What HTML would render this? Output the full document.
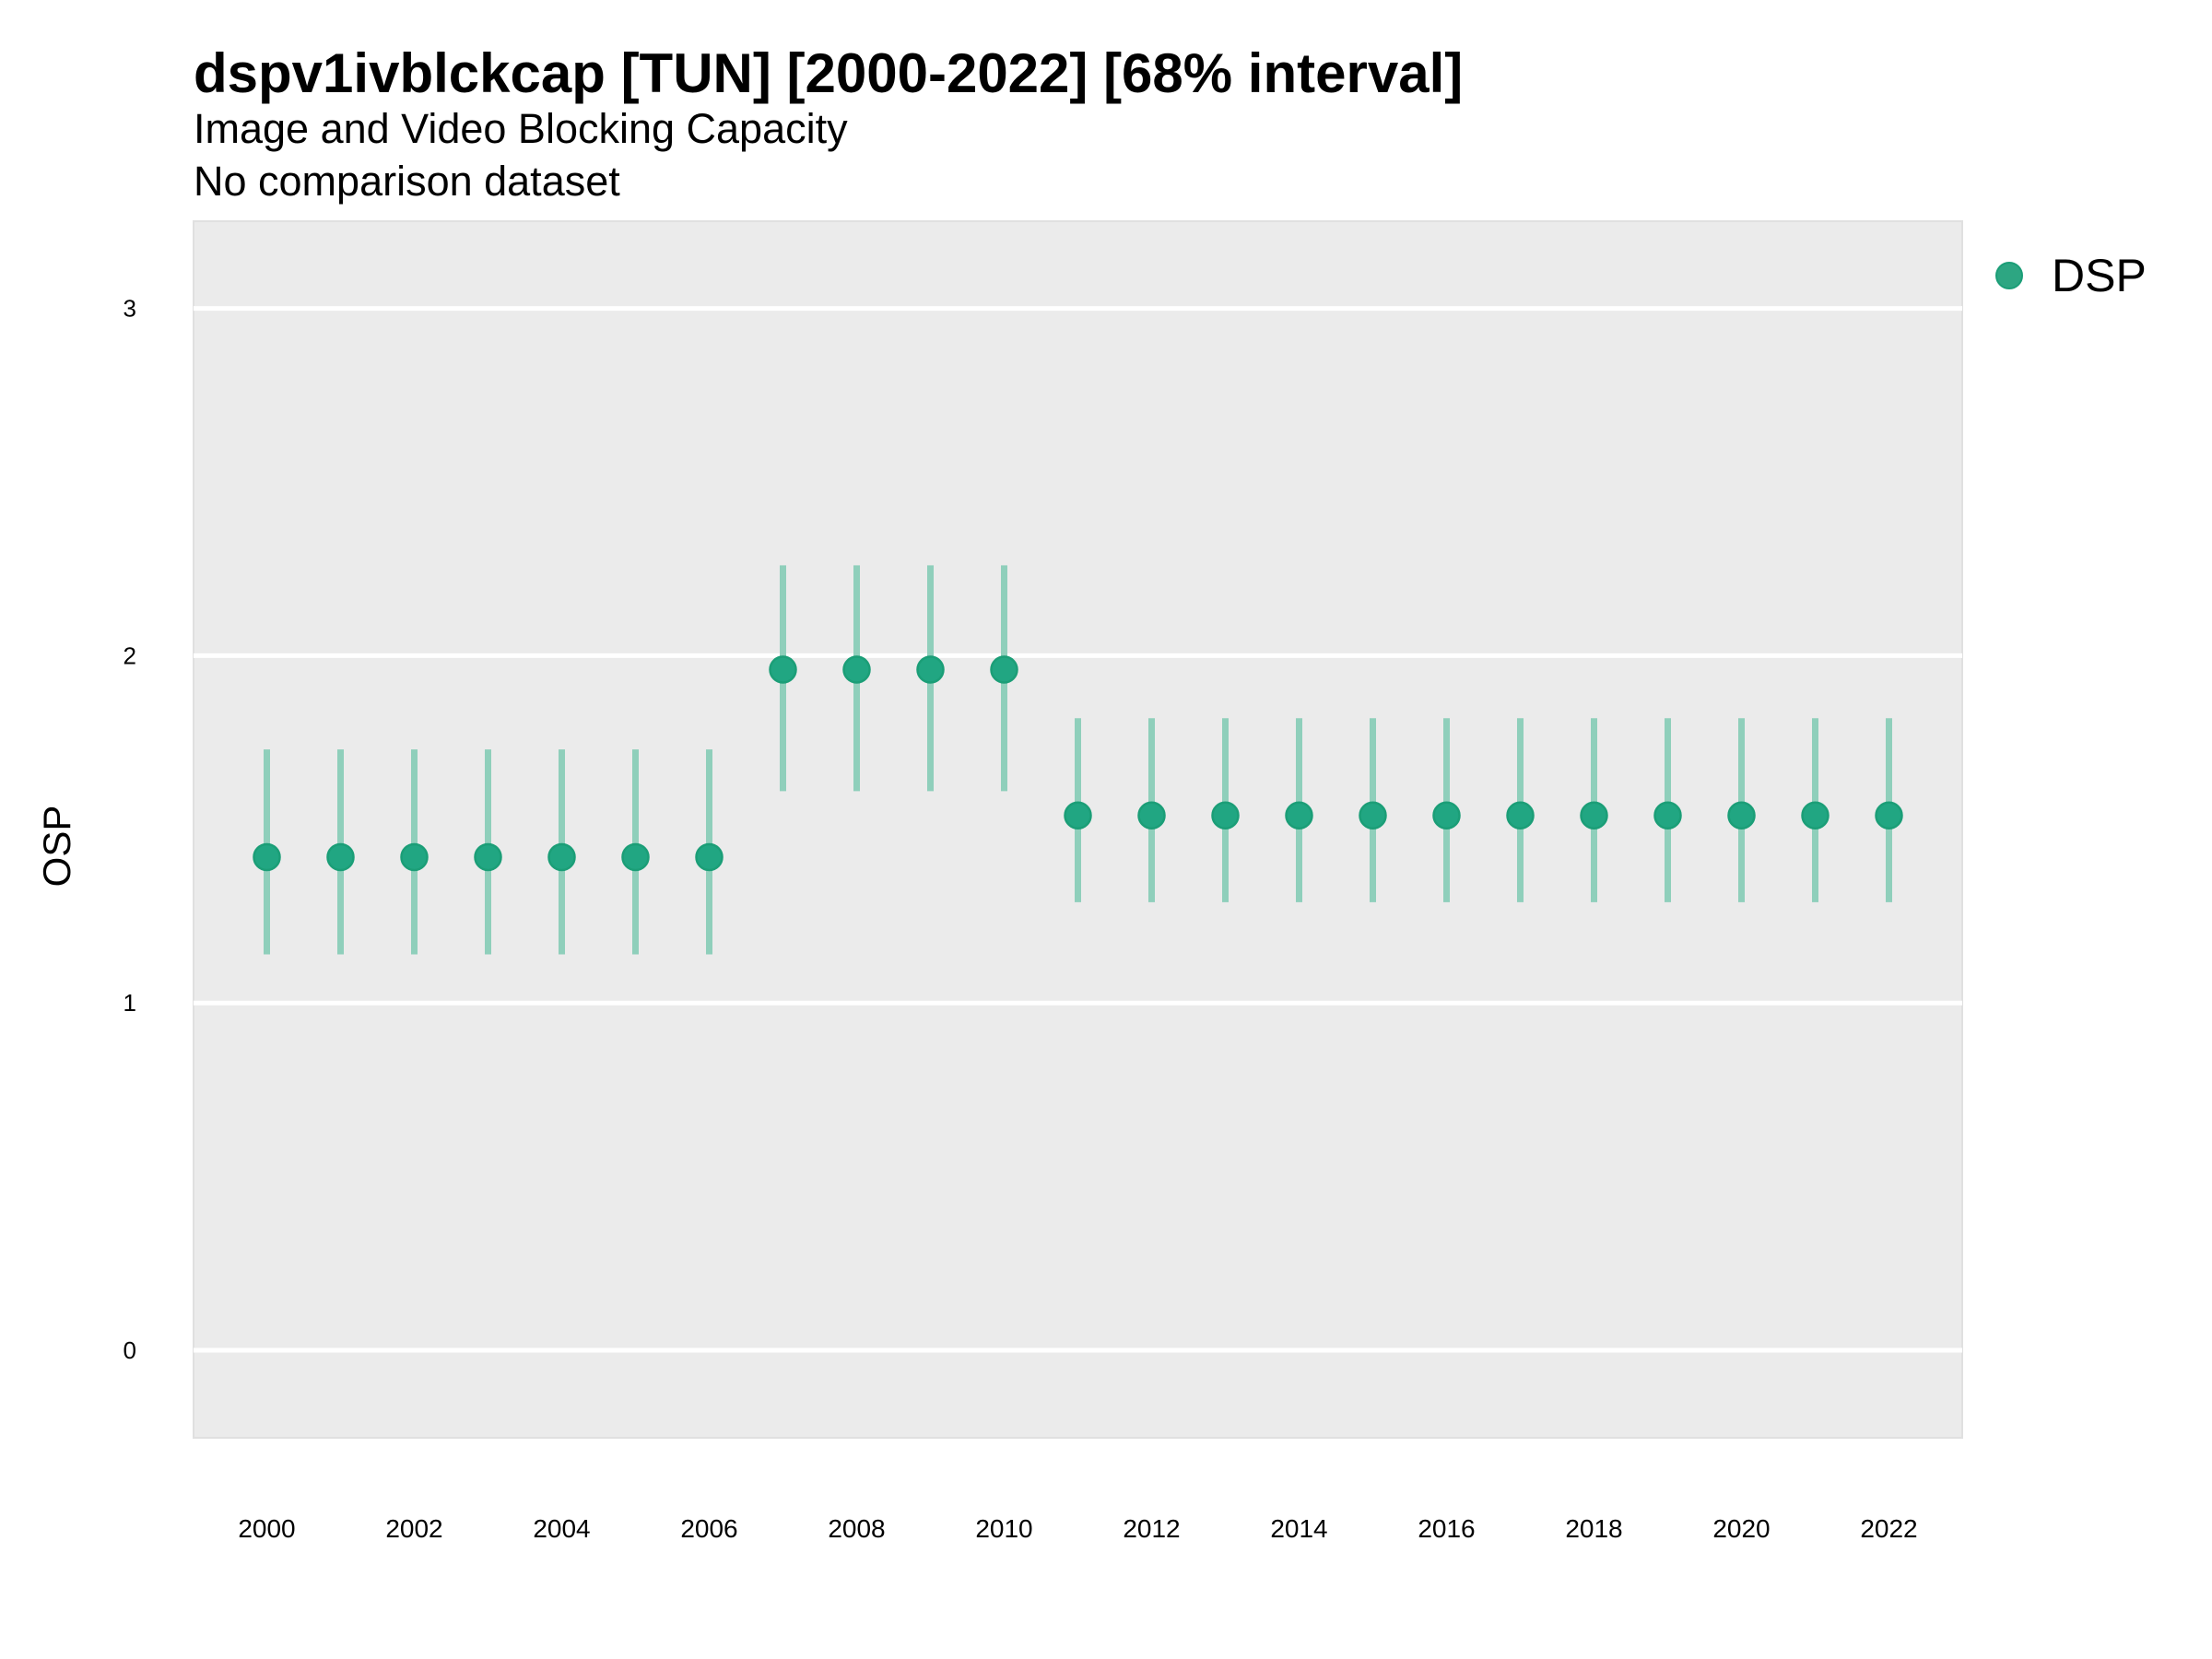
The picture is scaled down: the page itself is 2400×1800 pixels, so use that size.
<!DOCTYPE html>
<html><head><meta charset="utf-8"><style>
html,body{margin:0;padding:0;background:#fff;}
svg{display:block;font-family:"Liberation Sans",sans-serif;}
</style></head><body>
<svg id="chart" width="2400" height="1800" viewBox="0 0 2400 1800" xmlns="http://www.w3.org/2000/svg">
<text x="210" y="100" font-size="60" font-weight="bold" fill="#000">dspv1ivblckcap [TUN] [2000-2022] [68% interval]</text>
<text x="210" y="155" font-size="45" fill="#000">Image and Video Blocking Capacity</text>
<text x="210" y="212" font-size="45" fill="#000">No comparison dataset</text>
<rect x="210" y="240" width="1919" height="1320" fill="#ebebeb" stroke="#e0e0e0" stroke-width="2"/>
<g id="grid"></g>
<g id="yticks"></g>
<g id="xticks"></g>
<g id="marks"></g>
<text transform="translate(76,918) rotate(-90)" text-anchor="middle" font-size="42" fill="#000">OSP</text>
<circle cx="2180" cy="299" r="14" fill="#1b9e77" fill-opacity="0.92" stroke="#1b9e77" stroke-width="2"/>
<text x="2226" y="316" font-size="50" fill="#000">DSP</text>
</svg>
<script>
const years = [2000,2001,2002,2003,2004,2005,2006,2007,2008,2009,2010,2011,2012,2013,2014,2015,2016,2017,2018,2019,2020,2021,2022];
const values = [1.42,1.42,1.42,1.42,1.42,1.42,1.42,1.96,1.96,1.96,1.96,1.54,1.54,1.54,1.54,1.54,1.54,1.54,1.54,1.54,1.54,1.54,1.54];
const lows = [1.14,1.14,1.14,1.14,1.14,1.14,1.14,1.61,1.61,1.61,1.61,1.29,1.29,1.29,1.29,1.29,1.29,1.29,1.29,1.29,1.29,1.29,1.29];
const highs = [1.73,1.73,1.73,1.73,1.73,1.73,1.73,2.26,2.26,2.26,2.26,1.82,1.82,1.82,1.82,1.82,1.82,1.82,1.82,1.82,1.82,1.82,1.82];
const yTicks = [0,1,2,3];
const xTickLabels = [2000,2002,2004,2006,2008,2010,2012,2014,2016,2018,2020,2022];

const NS = "http://www.w3.org/2000/svg";
function xS(v){ return 289.5 + (v-2000)*80; }
function yS(v){ return 1465 - v*376.8; }
function mk(tag, attrs, parent){
  const el = document.createElementNS(NS, tag);
  for (const k in attrs) el.setAttribute(k, attrs[k]);
  parent.appendChild(el);
  return el;
}
const grid = document.getElementById('grid');
const yt = document.getElementById('yticks');
yTicks.forEach(t=>{
  const l = mk('line',{x1:210,x2:2129,y1:yS(t),y2:yS(t),stroke:'#fff','stroke-width':5},grid);
  
  
  const tx = mk('text',{x:148,y:yS(t)+9,'text-anchor':'end','font-size':26,fill:'#000'},yt);
  tx.textContent = t;
  
  
});
const xt = document.getElementById('xticks');
xTickLabels.forEach(t=>{
  const tx = mk('text',{x:xS(t),y:1668,'text-anchor':'middle','font-size':28,fill:'#000'},xt);
  tx.textContent = t;
  
  
});
const marks = document.getElementById('marks');
years.forEach((yr,i)=>{
  const b = mk('line',{x1:xS(yr),x2:xS(yr),y1:yS(lows[i]),y2:yS(highs[i]),stroke:'#8fcfbb','stroke-width':7},marks);
  
  
});
years.forEach((yr,i)=>{
  const c = mk('circle',{cx:xS(yr),cy:yS(values[i]),r:14,fill:'#21a682',stroke:'#1b9e77','stroke-width':2.5},marks);
  
  
});
</script>
</body></html>
